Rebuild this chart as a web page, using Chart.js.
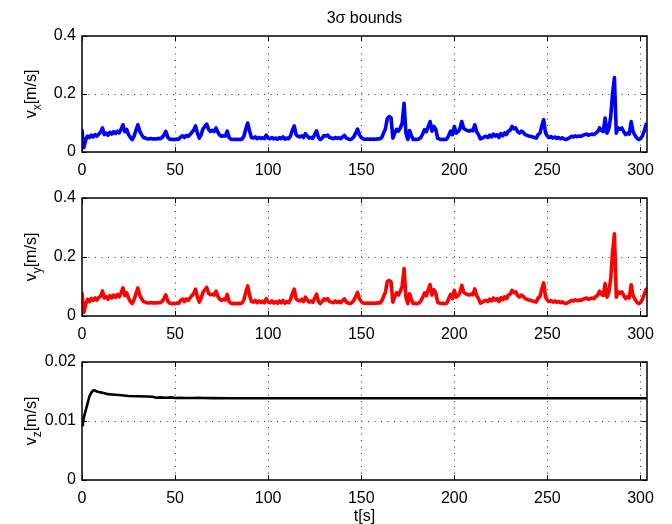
<!DOCTYPE html>
<html>
<head>
<meta charset="utf-8">
<script src="https://cdn.jsdelivr.net/npm/chart.js@4.4.1/dist/chart.umd.min.js"></script>
<style>
html,body{margin:0;padding:0;background:#fff;}
#wrap{position:relative;width:672px;height:524px;overflow:hidden;background:#fff;}
canvas{position:absolute;left:0;}
</style>
</head>
<body>
<div id="wrap">
<canvas id="c1" style="top:0px"></canvas>
<canvas id="c2" style="top:180px"></canvas>
<canvas id="c3" style="top:344px"></canvas>
</div>
<script>
// ---- data ----
const titleText = "3\u03c3 bounds";
const xTicks = [0, 50, 100, 150, 200, 250, 300];
const vTicks = [0, 0.2, 0.4];
const zTicks = [0, 0.01, 0.02];

// sample times, 1 s apart
const time = Array.from({length: 304}, (_, i) => i);

const vx = [
0.075,0.015,0.042,0.055,0.050,0.058,0.052,0.060,0.055,0.062,
0.068,0.083,0.060,0.065,0.058,0.068,0.062,0.070,0.064,0.072,
0.066,0.078,0.094,0.070,0.078,0.060,0.050,0.043,0.055,0.075,
0.094,0.072,0.060,0.050,0.048,0.046,0.045,0.047,0.045,0.046,
0.045,0.047,0.046,0.050,0.058,0.071,0.052,0.045,0.043,0.044,
0.043,0.045,0.044,0.052,0.056,0.050,0.057,0.054,0.060,0.068,
0.075,0.090,0.065,0.048,0.060,0.080,0.088,0.096,0.078,0.071,
0.075,0.070,0.083,0.068,0.058,0.054,0.056,0.055,0.072,0.050,
0.044,0.043,0.044,0.043,0.044,0.043,0.045,0.055,0.080,0.100,
0.072,0.050,0.048,0.052,0.046,0.050,0.047,0.049,0.046,0.058,
0.048,0.046,0.050,0.045,0.048,0.044,0.050,0.046,0.052,0.044,
0.048,0.046,0.055,0.075,0.090,0.060,0.054,0.052,0.056,0.050,
0.063,0.055,0.048,0.050,0.047,0.060,0.073,0.050,0.043,0.048,
0.057,0.055,0.058,0.050,0.048,0.046,0.050,0.047,0.049,0.046,
0.052,0.057,0.048,0.045,0.043,0.046,0.052,0.065,0.079,0.060,
0.050,0.045,0.044,0.045,0.044,0.045,0.044,0.045,0.044,0.046,
0.045,0.050,0.065,0.080,0.115,0.122,0.118,0.048,0.065,0.078,
0.072,0.083,0.100,0.168,0.065,0.043,0.074,0.055,0.043,0.044,
0.043,0.045,0.050,0.062,0.077,0.070,0.088,0.105,0.072,0.088,
0.080,0.048,0.045,0.043,0.044,0.043,0.045,0.058,0.072,0.060,
0.088,0.065,0.070,0.080,0.105,0.082,0.077,0.074,0.072,0.075,
0.073,0.094,0.070,0.060,0.045,0.048,0.052,0.054,0.050,0.058,
0.052,0.062,0.055,0.060,0.050,0.063,0.056,0.066,0.060,0.072,
0.075,0.088,0.080,0.083,0.070,0.065,0.072,0.068,0.060,0.058,
0.055,0.054,0.052,0.050,0.048,0.060,0.065,0.090,0.111,0.065,
0.055,0.050,0.053,0.048,0.052,0.047,0.050,0.046,0.049,0.045,
0.043,0.046,0.050,0.054,0.052,0.056,0.053,0.055,0.054,0.057,
0.060,0.062,0.058,0.060,0.062,0.060,0.065,0.070,0.083,0.075,
0.070,0.117,0.065,0.080,0.122,0.200,0.257,0.065,0.083,0.078,
0.083,0.070,0.060,0.065,0.062,0.105,0.070,0.058,0.048,0.043,
0.046,0.055,0.072,0.095
];

const vy = [
0.078,0.012,0.040,0.056,0.049,0.060,0.053,0.061,0.054,0.063,
0.067,0.085,0.061,0.066,0.057,0.069,0.061,0.071,0.063,0.073,
0.065,0.079,0.095,0.069,0.079,0.061,0.049,0.042,0.056,0.076,
0.095,0.071,0.059,0.049,0.047,0.045,0.044,0.046,0.044,0.045,
0.044,0.046,0.045,0.049,0.059,0.072,0.051,0.044,0.042,0.043,
0.042,0.044,0.043,0.053,0.057,0.049,0.058,0.053,0.061,0.069,
0.076,0.091,0.064,0.047,0.061,0.081,0.089,0.097,0.077,0.072,
0.074,0.071,0.084,0.067,0.057,0.053,0.057,0.054,0.073,0.049,
0.043,0.042,0.043,0.042,0.043,0.042,0.044,0.056,0.081,0.102,
0.071,0.049,0.047,0.053,0.045,0.051,0.046,0.050,0.045,0.059,
0.047,0.045,0.051,0.044,0.049,0.043,0.051,0.045,0.053,0.043,
0.049,0.045,0.056,0.076,0.091,0.059,0.053,0.051,0.057,0.049,
0.064,0.054,0.047,0.051,0.046,0.061,0.074,0.049,0.042,0.049,
0.058,0.054,0.059,0.049,0.047,0.045,0.051,0.046,0.050,0.045,
0.053,0.058,0.047,0.044,0.042,0.045,0.053,0.066,0.080,0.059,
0.049,0.044,0.043,0.044,0.043,0.044,0.043,0.044,0.043,0.045,
0.044,0.051,0.066,0.081,0.117,0.120,0.116,0.047,0.066,0.079,
0.071,0.084,0.101,0.161,0.064,0.042,0.075,0.054,0.042,0.043,
0.042,0.044,0.051,0.063,0.078,0.069,0.089,0.106,0.071,0.089,
0.079,0.047,0.044,0.042,0.043,0.042,0.044,0.059,0.073,0.059,
0.087,0.064,0.069,0.079,0.104,0.081,0.076,0.073,0.071,0.074,
0.072,0.092,0.069,0.059,0.044,0.047,0.051,0.053,0.049,0.057,
0.051,0.061,0.054,0.059,0.049,0.062,0.055,0.065,0.059,0.071,
0.074,0.087,0.079,0.082,0.069,0.064,0.071,0.067,0.059,0.057,
0.054,0.053,0.051,0.049,0.047,0.061,0.066,0.092,0.112,0.064,
0.054,0.049,0.052,0.047,0.051,0.046,0.049,0.045,0.048,0.044,
0.042,0.045,0.049,0.053,0.051,0.055,0.052,0.054,0.053,0.056,
0.059,0.061,0.057,0.059,0.061,0.059,0.066,0.071,0.084,0.074,
0.069,0.110,0.064,0.081,0.125,0.215,0.279,0.064,0.082,0.077,
0.082,0.069,0.059,0.066,0.061,0.106,0.069,0.057,0.047,0.042,
0.045,0.056,0.073,0.090
];

const tz = [0, 0.5, 1, 2, 3, 4, 5, 6, 7, 8, 9, 10, 12, 14, 16, 18, 20, 25, 30, 35, 38, 40, 42, 45, 48, 50, 53, 55, 60, 63, 65, 70, 80, 100, 150, 200, 250, 303.5];
const vz = [0.0093, 0.0097, 0.0106, 0.0118, 0.0130, 0.0142, 0.0148, 0.0152, 0.01515, 0.0150, 0.0149, 0.01485, 0.0147, 0.01455, 0.0145, 0.01445, 0.0144, 0.01425, 0.0142, 0.01415, 0.0141, 0.01395, 0.0140, 0.01395, 0.0140, 0.0139, 0.01395, 0.0139, 0.0139, 0.01395, 0.0139, 0.01388, 0.01385, 0.01385, 0.01385, 0.01385, 0.01385, 0.01385];

// ---- drawing ----
const FONT = "'Liberation Sans', Arial, Helvetica, sans-serif";
const W = 672;
const X_MAX = 303.5;

function fmt(v){ return String(+v.toFixed(4)); }

function framePlugin(opts){
  return {
    id: 'frame',
    beforeDatasetsDraw(chart){
      const ctx = chart.ctx, a = chart.chartArea;
      const xs = chart.scales.x, ys = chart.scales.y;
      ctx.save();
      ctx.strokeStyle = '#333';
      ctx.lineWidth = 1;
      ctx.setLineDash([1, 5.5]);
      opts.xT.forEach(v => {
        const px = Math.round(xs.getPixelForValue(v)) + 0.5;
        if (px <= a.left + 1 || px >= a.right - 1) return;
        ctx.beginPath(); ctx.moveTo(px, a.bottom); ctx.lineTo(px, a.top); ctx.stroke();
      });
      opts.yT.forEach(v => {
        const py = Math.round(ys.getPixelForValue(v)) + 0.5;
        if (py <= a.top + 1 || py >= a.bottom - 1) return;
        ctx.beginPath(); ctx.moveTo(a.left, py); ctx.lineTo(a.right, py); ctx.stroke();
      });
      ctx.restore();
    },
    afterDatasetsDraw(chart){
      const ctx = chart.ctx, a = chart.chartArea;
      const xs = chart.scales.x, ys = chart.scales.y;
      ctx.save();
      ctx.setLineDash([]);
      ctx.strokeStyle = '#000';
      ctx.lineWidth = 1.5;
      ctx.strokeRect(a.left, a.top, a.right - a.left, a.bottom - a.top);
      ctx.lineWidth = 1;
      const tl = 5;
      opts.xT.forEach(v => {
        const px = Math.round(xs.getPixelForValue(v)) + 0.5;
        ctx.beginPath();
        ctx.moveTo(px, a.bottom); ctx.lineTo(px, a.bottom - tl);
        ctx.moveTo(px, a.top); ctx.lineTo(px, a.top + tl);
        ctx.stroke();
      });
      opts.yT.forEach(v => {
        const py = Math.round(ys.getPixelForValue(v)) + 0.5;
        ctx.beginPath();
        ctx.moveTo(a.left, py); ctx.lineTo(a.left + tl, py);
        ctx.moveTo(a.right, py); ctx.lineTo(a.right - tl, py);
        ctx.stroke();
      });
      ctx.fillStyle = '#000';
      ctx.textBaseline = 'alphabetic';
      ctx.textAlign = 'left';
      const big = '16px ' + FONT, small = '12px ' + FONT;
      ctx.font = big; const w1 = ctx.measureText('v').width;
      ctx.font = small; const w2 = ctx.measureText(opts.sub).width;
      ctx.font = big; const w3 = ctx.measureText('[m/s]').width;
      const total = w1 + w2 + w3;
      const cy = (a.top + a.bottom) / 2;
      ctx.translate(opts.labelX, cy);
      ctx.rotate(-Math.PI / 2);
      let x0 = -total / 2;
      ctx.font = big; ctx.fillText('v', x0, 0);
      ctx.font = small; ctx.fillText(opts.sub, x0 + w1, 5);
      ctx.font = big; ctx.fillText('[m/s]', x0 + w1 + w2, 0);
      ctx.restore();
      ctx.save();
      ctx.fillStyle = '#000';
      ctx.font = '16px ' + FONT;
      ctx.textAlign = 'center';
      ctx.textBaseline = 'alphabetic';
      const cx = (a.left + a.right) / 2;
      if (opts.title) ctx.fillText(opts.title, cx, 23);
      if (opts.xlabel) ctx.fillText(opts.xlabel, cx, chart.height - 3);
      ctx.restore();
    }
  };
}

function makeChart(id, h, padTop, xH, xs, ys, color, lw, yMax, yT, sub, extra){
  const cv = document.getElementById(id);
  cv.width = W; cv.height = h;
  cv.style.width = W + 'px'; cv.style.height = h + 'px';
  const pts = xs.map((x, i) => ({x: x, y: ys[i]}));
  return new Chart(cv, {
    type: 'line',
    data: { datasets: [{ data: pts, borderColor: color, borderWidth: lw, borderJoinStyle: 'round', borderCapStyle: 'round', pointRadius: 0, tension: 0, fill: false }] },
    options: {
      responsive: false, animation: false, devicePixelRatio: 1,
      layout: { padding: { top: padTop, right: 25, left: 0, bottom: 0 } },
      plugins: { legend: { display: false }, tooltip: { enabled: false }, title: { display: false } },
      scales: {
        x: {
          type: 'linear', min: 0, max: X_MAX,
          afterBuildTicks: s => { s.ticks = xTicks.map(v => ({value: v})); },
          afterFit: s => { s.height = xH; },
          grid: { display: false, drawTicks: false },
          border: { display: false },
          ticks: { font: { family: FONT, size: 16 }, color: '#000', padding: 9, maxRotation: 0, autoSkip: false, callback: v => fmt(v) }
        },
        y: {
          type: 'linear', min: 0, max: yMax,
          afterBuildTicks: s => { s.ticks = yT.map(v => ({value: v})); },
          afterFit: s => { s.width = 82; },
          grid: { display: false, drawTicks: false },
          border: { display: false },
          ticks: { font: { family: FONT, size: 16 }, color: '#000', padding: 6, callback: v => fmt(v) }
        }
      }
    },
    plugins: [framePlugin(Object.assign({ xT: xTicks, yT: yT, sub: sub, labelX: 36 }, extra || {}))]
  });
}

makeChart('c1', 180, 36, 28, time, vx, '#0000ff', 3.6, 0.4, vTicks, 'x', { title: titleText });
makeChart('c2', 164, 18, 28, time, vy, '#ff0000', 3.6, 0.4, vTicks, 'y', {});
makeChart('c3', 180, 18, 44, tz, vz, '#000000', 2.6, 0.02, zTicks, 'z', { xlabel: 't[s]' });
</script>
</body>
</html>
